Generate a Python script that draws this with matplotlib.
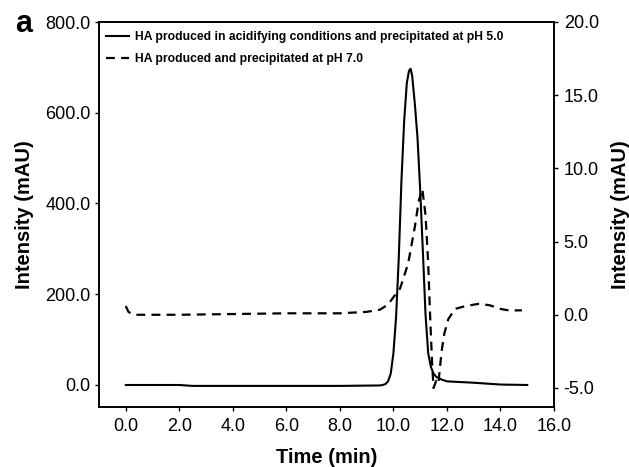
import matplotlib
matplotlib.use("Agg")
import matplotlib.pyplot as plt

plt.rcParams['font.family'] = ['Liberation Sans', 'DejaVu Sans']

# HA produced in acidifying conditions, precipitated at pH 5.0 (left axis, mAU)
solid_t = [0.0, 2.0, 2.5, 5.0, 8.0, 9.5, 9.6, 9.7, 9.8, 9.9, 10.0, 10.1, 10.2,
           10.3, 10.4, 10.5, 10.58, 10.64, 10.7, 10.8, 10.9, 11.0, 11.1, 11.2,
           11.3, 11.4, 11.5, 11.6, 11.8, 12.0, 13.0, 14.0, 15.0]
solid_v = [0, 0, -2, -2, -2, -1, 0, 2, 8, 25, 70, 150, 280,
           450, 580, 665, 692, 697, 682, 620, 545, 430, 295, 155,
           70, 40, 25, 18, 12, 8, 5, 1, 0]

# HA produced and precipitated at pH 7.0 (right axis, mAU)
dash_t = [0.0, 0.1, 0.3, 2.0, 4.0, 6.0, 8.0, 9.0, 9.5, 9.8, 10.0, 10.25, 10.55,
          10.8, 10.95, 11.08, 11.2, 11.3, 11.38, 11.45, 11.5, 11.6, 11.68, 11.8,
          11.9, 12.05, 12.3, 12.7, 13.2, 13.6, 14.0, 14.3, 14.8]
dash_v = [0.6, 0.2, 0.0, 0.0, 0.05, 0.1, 0.1, 0.2, 0.35, 0.7, 1.2, 1.8, 3.5,
          6.0, 7.8, 8.6, 6.8, 3.5, -0.5, -3.5, -5.0, -4.5, -4.7, -2.5,
          -1.3, -0.3, 0.4, 0.6, 0.75, 0.65, 0.4, 0.3, 0.3]

xticks = [0, 2, 4, 6, 8, 10, 12, 14, 16]
left_ticks = [0, 200, 400, 600, 800]
right_ticks = [-5, 0, 5, 10, 15, 20]

fig = plt.figure(figsize=(6.29, 4.67), dpi=100)
ax1 = fig.add_axes([99/629, 1-407/467, (554-99)/629, (407-22)/467])
ax2 = ax1.twinx()

l1, = ax1.plot(solid_t, solid_v, color='black', lw=1.5, solid_joinstyle='round')
l2, = ax2.plot(dash_t, dash_v, color='black', lw=1.6, linestyle=(0, (4, 2.8)))

ax1.set_xlim(-1.0, 16.0)
ax1.set_ylim(-48.5, 800)
ax2.set_ylim(-6.3, 20)

ax1.set_xticks(xticks)
ax1.set_xticklabels(['%.1f' % v for v in xticks])
ax1.set_yticks(left_ticks)
ax1.set_yticklabels(['%.1f' % v for v in left_ticks])
ax2.set_yticks(right_ticks)
ax2.set_yticklabels(['%.1f' % v for v in right_ticks])

for a in (ax1, ax2):
    a.tick_params(direction='out', length=3, width=1, labelsize=13, pad=3)
    for s in a.spines.values():
        s.set_linewidth(1.2)
ax1.tick_params(axis='x', pad=5)
ax2.tick_params(axis='y', pad=4)

ax1.set_xlabel('Time (min)', fontsize=14.5, fontweight='bold', labelpad=9)
ax1.set_ylabel('Intensity (mAU)', fontsize=14.5, fontweight='bold', labelpad=8)
ax2.set_ylabel('Intensity (mAU)', fontsize=14.5, fontweight='bold', labelpad=9)

leg = ax1.legend([l1, l2],
                 ['HA produced in acidifying conditions and precipitated at pH 5.0',
                  'HA produced and precipitated at pH 7.0'],
                 loc='upper left', bbox_to_anchor=(-0.005, 1.0), frameon=False,
                 prop={'size': 8.7, 'weight': 'bold'}, handlelength=1.9,
                 handletextpad=0.5, labelspacing=0.85, borderaxespad=0.35)

fig.text(15/629, 1-24/467, 'a', fontsize=22, fontweight='bold', va='center', ha='left')

fig.savefig('out.png', dpi=100)
